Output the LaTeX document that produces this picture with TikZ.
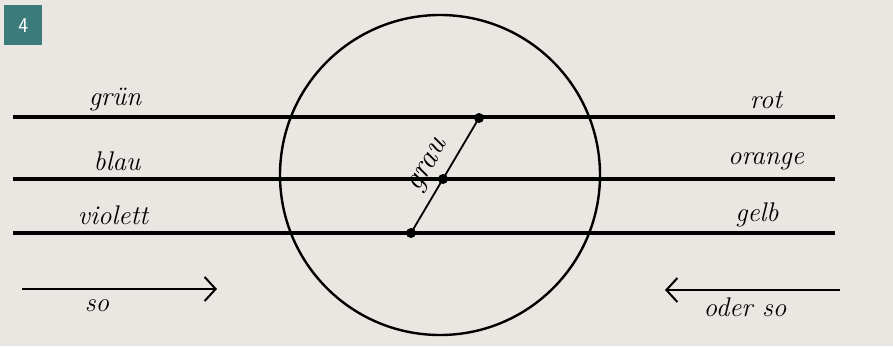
\documentclass[tikz,border=0pt]{standalone}
\usepackage{fontspec}
\usepackage{tikz}
\usetikzlibrary{arrows.meta,positioning}
\definecolor{paper}{HTML}{EAE6E2}
\definecolor{badge}{HTML}{3B7B7B}

\begin{document}
\begin{tikzpicture}[x=1pt,y=-1pt,
bar/.style={line width=3.2pt},
hand/.style={font=\itshape\fontsize{27}{30}\selectfont,inner sep=1pt},
arr/.style={-{Straight Barb[length=11pt,width=24pt,line width=2pt]},line width=2.2pt}]
\fill[paper] (0,0) rectangle (893,346);
\useasboundingbox (0,0) rectangle (893,346);
\node[fill=badge,text=white,anchor=north west,minimum width=38pt,minimum height=40pt,font=\sffamily\fontsize{21}{24}\selectfont] (num) at (4,5) {4};
% the three colour lines
\foreach \n/\y in {top/117,mid/179,low/233} {
  \coordinate (\n l) at (13,\y);
  \coordinate (\n r) at (835,\y);
  \draw[bar] (\n l) -- (\n r);
}
\draw[line width=2.4pt] (440,175) circle[radius=160pt];
% grey axis through the circle
\coordinate (pv) at (411,233);
\coordinate (pb) at (443,179);
\coordinate (pg) at (479,118);
\draw[line width=1.8pt] (pv) -- node[hand,sloped,above=6pt,pos=0.5,font=\itshape\fontsize{31}{34}\selectfont] (grau) {grau} (pg);
\foreach \p in {pv,pb,pg}
  \fill (\p) circle[radius=5pt];
% labels
\node[hand] (gruen) at (115,100) {grün};
\node[hand] (blau) at (117,161) {blau};
\node[hand] (violett) at (113,215) {violett};
\node[hand] (rot) at (766,100) {rot};
\node[hand] (orange) at (766,161) {orange};
\node[hand] (gelb) at (757,215) {gelb};
% directions
\coordinate (sa) at (22,289);
\coordinate (sb) at (217,289);
\coordinate (oa) at (840,290);
\coordinate (ob) at (665,290);
\draw[arr] (sa) -- (sb);
\draw[arr] (oa) -- (ob);
\node[hand] (so) at (97,306) {so};
\node[hand] (oderso) at (745,307) {oder so};
\end{tikzpicture}
\end{document}
